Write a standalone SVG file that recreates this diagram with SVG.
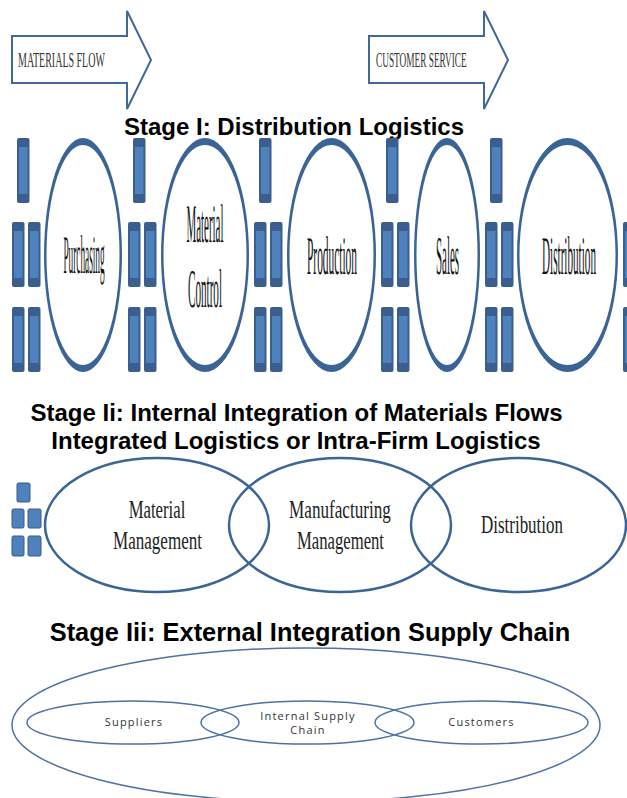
<svg xmlns="http://www.w3.org/2000/svg" xmlns:xlink="http://www.w3.org/1999/xlink" width="627" height="798" viewBox="0 0 627 798">
  <style>
    .title { font-family: "Liberation Sans", Arial, sans-serif; font-weight: bold; font-size: 24px; fill: #000; text-anchor: middle; }
    .banner { fill: #fff; stroke: #41689b; stroke-width: 2; stroke-linejoin: miter; }
    .banner-text { font-family: "Liberation Serif", "Times New Roman", serif; font-size: 20px; fill: #333; }
    .ring-outer { fill: #3b6496; }
    .ring-inner { fill: #fff; }
    .tall { font-family: "Liberation Serif", "Times New Roman", serif; font-size: 16px; fill: #111; text-anchor: middle; }
    .oval2 { fill: none; stroke: #3b6596; stroke-width: 2.5; }
    .lbl2 { font-family: "Liberation Serif", "Times New Roman", serif; font-size: 25px; fill: #222; text-anchor: middle; }
    .oval3 { fill: none; stroke: #4d72a3; stroke-width: 1.5; }
    .lbl3 { font-family: "Open Sans", "Liberation Sans", sans-serif; font-size: 11px; fill: #333; text-anchor: middle; letter-spacing: 1.2px; }
    .sq { fill: #4f81bd; stroke: #385d8a; stroke-width: 1; }
  </style>
  <defs>
    <!-- vertical block with darker caps -->
    <g id="bar">
      <rect width="12.5" height="65" rx="2" fill="#3a5f8e"/>
      <rect x="2" y="9" width="8.5" height="47" fill="#4f81bd"/>
    </g>
    <!-- three-block cluster: one on top, two side by side in each lower row -->
    <g id="cluster">
      <use xlink:href="#bar" x="5" y="138"/>
      <use xlink:href="#bar" x="0" y="222"/>
      <use xlink:href="#bar" x="16" y="222"/>
      <use xlink:href="#bar" x="0" y="307"/>
      <use xlink:href="#bar" x="16" y="307"/>
    </g>
  </defs>

  <rect width="627" height="798" fill="#fff"/>

  <!-- flow banners -->
  <g id="materials-flow">
    <path class="banner" d="M12,36 H127 V11 L151,60 L127,109 V83 H12 Z"/>
    <text class="banner-text" transform="translate(18,67) scale(0.5,1)">MATERIALS FLOW</text>
  </g>
  <g id="customer-service">
    <path class="banner" d="M369,36 H484 V11 L508,60 L484,109 V83 H369 Z"/>
    <text class="banner-text" transform="translate(376,67) scale(0.465,1)">CUSTOMER SERVICE</text>
  </g>

  <!-- Stage I -->
  <text id="stage1-title" class="title" x="294" y="135">Stage I: Distribution Logistics</text>

  <g id="stage1-blocks">
    <use xlink:href="#cluster" x="12"/>
    <use xlink:href="#cluster" x="128"/>
    <use xlink:href="#cluster" x="254"/>
    <use xlink:href="#cluster" x="381"/>
    <use xlink:href="#cluster" x="485"/>
    <use xlink:href="#bar" x="623" y="222"/>
    <use xlink:href="#bar" x="623" y="307"/>
  </g>

  <g id="purchasing">
    <ellipse class="ring-outer" cx="83" cy="255" rx="39" ry="117"/>
    <ellipse class="ring-inner" cx="83" cy="255" rx="36.5" ry="110"/>
    <text class="tall" transform="translate(84,273) rotate(0.1) scale(0.58,3.4)">Purchasing</text>
  </g>
  <g id="material-control">
    <ellipse class="ring-outer" cx="205" cy="255" rx="44" ry="117"/>
    <ellipse class="ring-inner" cx="205" cy="255" rx="41.5" ry="110"/>
    <text class="tall" transform="translate(205,242) rotate(0.1) scale(0.683,3.4)">Material</text>
    <text class="tall" transform="translate(205,307) rotate(0.1) scale(0.695,3.4)">Control</text>
  </g>
  <g id="production">
    <ellipse class="ring-outer" cx="331.5" cy="255" rx="44.5" ry="117"/>
    <ellipse class="ring-inner" cx="331.5" cy="255" rx="42" ry="110"/>
    <text class="tall" transform="translate(332,274) rotate(0.1) scale(0.712,3.4)">Production</text>
  </g>
  <g id="sales">
    <ellipse class="ring-outer" cx="447" cy="255" rx="33" ry="117"/>
    <ellipse class="ring-inner" cx="447" cy="255" rx="30.5" ry="110"/>
    <text class="tall" transform="translate(447.5,274) rotate(0.1) scale(0.68,3.4)">Sales</text>
  </g>
  <g id="distribution-1">
    <ellipse class="ring-outer" cx="567.5" cy="255" rx="50.5" ry="117"/>
    <ellipse class="ring-inner" cx="567.5" cy="255" rx="48" ry="110"/>
    <text class="tall" transform="translate(569,274) rotate(0.1) scale(0.698,3.4)">Distribution</text>
  </g>

  <!-- Stage II -->
  <text id="stage2-title" class="title" x="296.5" y="421">Stage Ii: Internal Integration of Materials Flows</text>
  <text id="stage2-subtitle" class="title" x="296" y="449">Integrated Logistics or Intra-Firm Logistics</text>

  <g id="stage2-blocks">
    <rect class="sq" x="17" y="483" width="13" height="19" rx="1.5"/>
    <rect class="sq" x="12" y="509" width="12" height="19" rx="1.5"/>
    <rect class="sq" x="28" y="509" width="13" height="19" rx="1.5"/>
    <rect class="sq" x="12" y="536" width="12" height="20" rx="1.5"/>
    <rect class="sq" x="28" y="536" width="13" height="20" rx="1.5"/>
  </g>

  <g id="material-management">
    <ellipse class="oval2" cx="157" cy="525" rx="112" ry="67"/>
    <text class="lbl2" transform="translate(157,518) scale(0.67,1)">Material</text>
    <text class="lbl2" transform="translate(157.5,549) scale(0.682,1)">Management</text>
  </g>
  <g id="manufacturing-management">
    <ellipse class="oval2" cx="340" cy="525" rx="111" ry="67"/>
    <text class="lbl2" transform="translate(340,518) scale(0.686,1)">Manufacturing</text>
    <text class="lbl2" transform="translate(340.5,549) scale(0.667,1)">Management</text>
  </g>
  <g id="distribution-2">
    <ellipse class="oval2" cx="518.5" cy="525" rx="107.5" ry="67"/>
    <text class="lbl2" transform="translate(522,533) scale(0.678,1)">Distribution</text>
  </g>

  <!-- Stage III -->
  <text id="stage3-title" class="title" x="310" y="641" style="font-size:25.4px">Stage Iii: External Integration Supply Chain</text>

  <g id="supply-chain">
    <ellipse class="oval3" cx="306" cy="725" rx="294" ry="77"/>
  </g>
  <g id="suppliers">
    <ellipse class="oval3" cx="133" cy="722.5" rx="106" ry="21.5"/>
    <text class="lbl3" x="134" y="726">Suppliers</text>
  </g>
  <g id="internal-supply-chain">
    <ellipse class="oval3" cx="307.5" cy="722.5" rx="106.5" ry="21.5"/>
    <text class="lbl3" x="308" y="720">Internal Supply</text>
    <text class="lbl3" x="308" y="733.5">Chain</text>
  </g>
  <g id="customers">
    <ellipse class="oval3" cx="481.5" cy="722.5" rx="106.5" ry="21.5"/>
    <text class="lbl3" x="481.5" y="726">Customers</text>
  </g>
</svg>
